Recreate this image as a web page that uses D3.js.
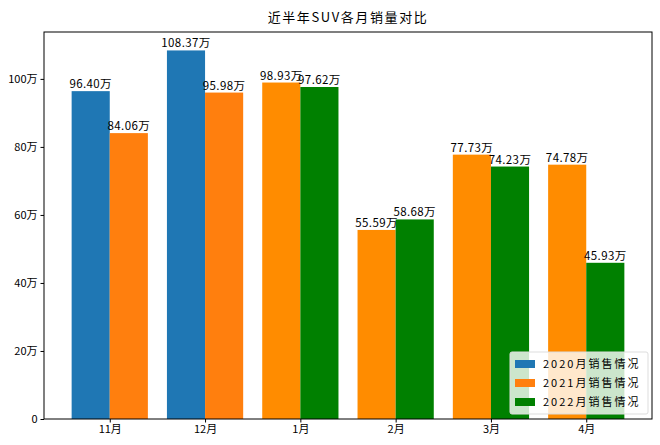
<!DOCTYPE html>
<html><head><meta charset="utf-8">
<script src="https://cdn.jsdelivr.net/npm/d3@7"></script>
<style>body{margin:0;background:#fff}svg{display:block}text{font-family:"Noto Sans CJK SC","Noto Sans",sans-serif}</style>
</head><body><svg id="c" width="660" height="445"></svg>
<script>
const months = ["11月","12月","1月","2月","3月","4月"];
const series2020 = [96.40,108.37,null,null,null,null];
const series2021 = [84.06,95.98,98.93,55.59,77.73,74.78];
const series2022 = [null,null,97.62,58.68,74.23,45.93];
const yTicks = [0,20,40,60,80,100];
const yTickLabels = ["0","20万","40万","60万","80万","100万"];
const legendLabels = ["2020月销售情况","2021月销售情况","2022月销售情况"];
const title = "近半年SUV各月销量对比";

const svg = d3.select("#c");
const m = {l:44, r:652, t:32, b:419};
const x = d3.scaleLinear().domain([-0.69,5.69]).range([m.l,m.r]);
const y = d3.scaleLinear().domain([0,113.79]).range([m.b,m.t]);
const bw = 0.4;

const bars = [];
months.forEach((mo,i)=>{
  if(series2020[i]!=null){
    bars.push({v:series2020[i], x0:i-bw, c:"#1f77b4"});
    bars.push({v:series2021[i], x0:i, c:"#ff7f0e"});
  } else {
    bars.push({v:series2021[i], x0:i-bw, c:"#ff8c00"});
    bars.push({v:series2022[i], x0:i, c:"#008000"});
  }
});

svg.append("g").selectAll("rect").data(bars).join("rect")
  .attr("x",d=>x(d.x0)).attr("width",d=>x(d.x0+bw)-x(d.x0))
  .attr("y",d=>y(d.v)).attr("height",d=>y(0)-y(d.v)).attr("fill",d=>d.c);

svg.append("g").selectAll("text").data(bars).join("text")
  .attr("x",d=>x(d.x0+bw/2)).attr("y",d=>y(d.v)-3)
  .attr("text-anchor","middle").attr("font-size",11.5).attr("letter-spacing",0.4).attr("fill","#000")
  .text(d=>d.v.toFixed(2)+"万");

const xa = d3.axisBottom(x).tickValues(d3.range(months.length)).tickFormat(i=>months[i]).tickSize(3.5).tickPadding(3);
const gx = svg.append("g").attr("transform",`translate(0,${m.b})`).call(xa);
const ya = d3.axisLeft(y).tickValues(yTicks).tickFormat((d,i)=>yTickLabels[i]).tickSize(3.5).tickPadding(3);
const gy = svg.append("g").attr("transform",`translate(${m.l},0)`).call(ya);
[gx,gy].forEach(g=>{g.select(".domain").remove();g.selectAll("text").attr("font-size",11).attr("fill","#000").style("font-family",'"Noto Sans CJK SC",sans-serif');g.selectAll("line").attr("stroke","#000");});

svg.append("rect").attr("x",m.l).attr("y",m.t).attr("width",m.r-m.l).attr("height",m.b-m.t)
  .attr("fill","none").attr("stroke","#000").attr("stroke-width",1);

svg.append("text").attr("x",(m.l+m.r)/2).attr("y",22).attr("text-anchor","middle")
  .attr("font-size",13).attr("letter-spacing",1.6).attr("fill","#000").text(title);

const lg = svg.append("g").attr("transform","translate(510,352)");
lg.append("rect").attr("width",138).attr("height",62).attr("rx",2)
  .attr("fill","#fff").attr("fill-opacity",0.8).attr("stroke","#ddd");
const lcolors = ["#1f77b4","#ff7f0e","#008000"];
legendLabels.forEach((t,i)=>{
  lg.append("rect").attr("x",5).attr("y",8+i*19).attr("width",20).attr("height",8).attr("fill",lcolors[i]);
  lg.append("text").attr("x",33).attr("y",16+i*19).attr("font-size",11).attr("letter-spacing",2).attr("fill","#000").text(t);
});
</script></body></html>
